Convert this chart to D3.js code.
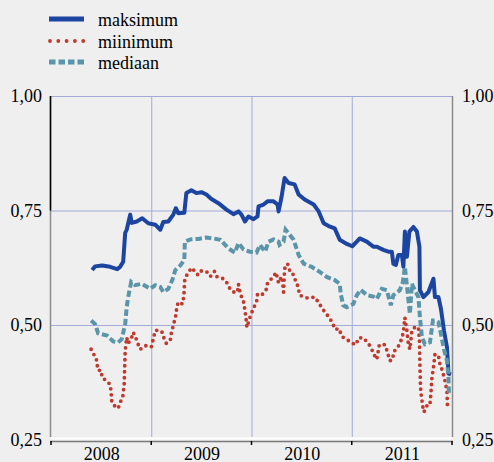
<!DOCTYPE html>
<html><head><meta charset="utf-8">
<script src="https://cdn.jsdelivr.net/npm/d3@7"></script>
<style>
html,body{margin:0;padding:0;background:#efefef;}
svg{display:block;}
text{font-family:"Liberation Serif","Times New Roman",serif;fill:#000;}
</style></head>
<body>
<svg id="chart" width="494" height="462"></svg>
<script>
// ---- data (time in decimal years) ----
const seriesNames = ["maksimum", "miinimum", "mediaan"];
const yTicks = [0.25, 0.50, 0.75, 1.00];
const yearLabels = ["2008", "2009", "2010", "2011"];

const maxTime = [2008.41,2008.44,2008.51,2008.59,2008.66,2008.69,2008.72,2008.74,2008.755,2008.79,2008.805,2008.855,2008.91,2008.97,2009.04,2009.09,2009.12,2009.17,2009.22,2009.245,2009.27,2009.33,2009.35,2009.40,2009.45,2009.50,2009.55,2009.60,2009.67,2009.75,2009.82,2009.87,2009.90,2009.935,2009.97,2010.02,2010.06,2010.07,2010.12,2010.16,2010.22,2010.26,2010.27,2010.30,2010.33,2010.37,2010.43,2010.47,2010.53,2010.62,2010.67,2010.72,2010.77,2010.83,2010.88,2010.95,2011.005,2011.05,2011.08,2011.15,2011.215,2011.25,2011.315,2011.365,2011.40,2011.415,2011.44,2011.465,2011.50,2011.515,2011.53,2011.55,2011.575,2011.615,2011.65,2011.675,2011.68,2011.715,2011.765,2011.815,2011.83,2011.865,2011.89,2011.92,2011.95,2011.965,2011.99];
const maxValue = [0.620,0.628,0.630,0.627,0.622,0.627,0.638,0.701,0.708,0.741,0.723,0.726,0.733,0.722,0.719,0.708,0.725,0.726,0.741,0.755,0.744,0.745,0.788,0.794,0.788,0.790,0.785,0.775,0.766,0.752,0.742,0.748,0.741,0.726,0.737,0.731,0.737,0.759,0.763,0.770,0.770,0.763,0.748,0.780,0.821,0.810,0.807,0.785,0.774,0.763,0.748,0.722,0.716,0.711,0.686,0.677,0.672,0.682,0.689,0.682,0.671,0.671,0.664,0.660,0.660,0.634,0.631,0.653,0.653,0.627,0.704,0.649,0.704,0.714,0.704,0.671,0.576,0.561,0.572,0.601,0.561,0.561,0.535,0.488,0.451,0.394,0.392];

const minTime = [2008.40,2008.42,2008.45,2008.46,2008.47,2008.50,2008.51,2008.55,2008.59,2008.60,2008.605,2008.62,2008.67,2008.69,2008.715,2008.73,2008.735,2008.74,2008.755,2008.77,2008.805,2008.82,2008.845,2008.865,2008.89,2008.94,2009.00,2009.02,2009.04,2009.08,2009.11,2009.13,2009.15,2009.19,2009.20,2009.22,2009.245,2009.255,2009.27,2009.31,2009.325,2009.33,2009.335,2009.36,2009.39,2009.41,2009.44,2009.47,2009.50,2009.55,2009.59,2009.63,2009.65,2009.72,2009.75,2009.78,2009.82,2009.86,2009.87,2009.88,2009.90,2009.925,2009.935,2009.945,2009.95,2009.955,2009.99,2010.025,2010.05,2010.06,2010.10,2010.145,2010.16,2010.19,2010.22,2010.245,2010.26,2010.27,2010.30,2010.315,2010.32,2010.33,2010.36,2010.38,2010.41,2010.42,2010.45,2010.47,2010.48,2010.53,2010.56,2010.63,2010.67,2010.70,2010.74,2010.77,2010.81,2010.83,2010.88,2010.89,2010.915,2010.96,2011.01,2011.04,2011.07,2011.115,2011.165,2011.20,2011.215,2011.25,2011.275,2011.33,2011.35,2011.38,2011.41,2011.415,2011.45,2011.48,2011.51,2011.52,2011.53,2011.55,2011.565,2011.58,2011.60,2011.63,2011.665,2011.675,2011.68,2011.685,2011.69,2011.71,2011.72,2011.755,2011.78,2011.79,2011.80,2011.815,2011.83,2011.865,2011.88,2011.905,2011.93,2011.95,2011.955];
const minValue = [0.447,0.438,0.429,0.414,0.401,0.401,0.385,0.379,0.370,0.354,0.335,0.326,0.318,0.331,0.342,0.370,0.407,0.444,0.473,0.460,0.473,0.484,0.473,0.460,0.447,0.455,0.452,0.469,0.488,0.489,0.484,0.469,0.460,0.467,0.482,0.499,0.521,0.539,0.550,0.546,0.562,0.583,0.601,0.611,0.621,0.625,0.614,0.609,0.618,0.617,0.606,0.617,0.606,0.601,0.594,0.581,0.572,0.572,0.589,0.577,0.562,0.548,0.530,0.517,0.501,0.495,0.521,0.539,0.550,0.567,0.565,0.576,0.592,0.599,0.606,0.615,0.601,0.592,0.606,0.583,0.572,0.623,0.634,0.620,0.616,0.604,0.594,0.577,0.565,0.561,0.559,0.561,0.549,0.538,0.526,0.518,0.504,0.491,0.491,0.480,0.473,0.467,0.460,0.457,0.472,0.472,0.460,0.447,0.438,0.425,0.457,0.457,0.445,0.422,0.425,0.440,0.450,0.458,0.480,0.495,0.516,0.488,0.458,0.447,0.488,0.495,0.495,0.466,0.414,0.370,0.352,0.320,0.310,0.326,0.326,0.352,0.385,0.407,0.436,0.433,0.414,0.400,0.378,0.356,0.320];

const medTime = [2008.40,2008.44,2008.47,2008.56,2008.62,2008.67,2008.705,2008.74,2008.755,2008.77,2008.80,2008.84,2008.905,2008.99,2009.04,2009.09,2009.12,2009.17,2009.21,2009.24,2009.29,2009.33,2009.335,2009.39,2009.47,2009.55,2009.62,2009.69,2009.77,2009.835,2009.87,2009.92,2009.985,2010.05,2010.085,2010.135,2010.17,2010.22,2010.27,2010.28,2010.32,2010.34,2010.37,2010.42,2010.47,2010.52,2010.60,2010.68,2010.75,2010.83,2010.88,2010.89,2010.915,2010.95,2011.015,2011.05,2011.09,2011.15,2011.215,2011.25,2011.30,2011.35,2011.39,2011.415,2011.48,2011.51,2011.53,2011.555,2011.58,2011.60,2011.63,2011.665,2011.68,2011.70,2011.73,2011.78,2011.81,2011.83,2011.865,2011.89,2011.92,2011.95,2011.965,2011.97];
const medValue = [0.510,0.502,0.482,0.477,0.464,0.462,0.469,0.502,0.539,0.561,0.594,0.587,0.590,0.579,0.587,0.583,0.572,0.579,0.598,0.620,0.630,0.642,0.682,0.687,0.688,0.691,0.689,0.686,0.667,0.658,0.679,0.665,0.660,0.658,0.675,0.660,0.682,0.687,0.682,0.675,0.682,0.708,0.700,0.686,0.653,0.634,0.627,0.616,0.605,0.598,0.590,0.568,0.543,0.539,0.546,0.565,0.577,0.565,0.562,0.557,0.579,0.576,0.543,0.565,0.576,0.594,0.627,0.576,0.524,0.590,0.576,0.561,0.517,0.473,0.458,0.462,0.510,0.510,0.506,0.480,0.447,0.422,0.385,0.348];

// ---- layout ----
const svg = d3.select("#chart");
const plotL = 51, plotR = 452, plotT = 96, plotB = 437;
const x = d3.scaleLinear().domain([2008, 2012]).range([plotL, plotR]);
const y = d3.scaleLinear().domain([0.25, 1.00]).range([439.5, 96]);
const fmt = v => d3.format(".2f")(v).replace(".", ",");

const colors = {max: "#1b45a0", min: "#bf392c", med: "#5b95a9"};
const grid = "#a3aad8";

// gridlines
svg.append("g").selectAll("line").data(yTicks.filter(v => v > 0.25)).join("line")
  .attr("x1", plotL).attr("x2", plotR)
  .attr("y1", d => y(d) + 0.5).attr("y2", d => y(d) + 0.5)
  .attr("stroke", grid).attr("stroke-width", 1);
svg.append("g").selectAll("line").data([2009, 2010, 2011]).join("line")
  .attr("x1", d => x(d) + 0.5).attr("x2", d => x(d) + 0.5)
  .attr("y1", plotT).attr("y2", plotB)
  .attr("stroke", grid).attr("stroke-width", 1);

// frame
svg.append("line").attr("x1", plotL - 0.5).attr("x2", plotL - 0.5).attr("y1", plotT).attr("y2", plotB)
  .attr("stroke", "#8a8a8a").attr("stroke-width", 1.5);
svg.append("line").attr("x1", plotL - 0.5).attr("x2", plotL - 0.5).attr("y1", plotT).attr("y2", y(0.75))
  .attr("stroke", "#000").attr("stroke-width", 1.5);
svg.append("line").attr("x1", plotR + 0.5).attr("x2", plotR + 0.5).attr("y1", plotT).attr("y2", plotB)
  .attr("stroke", "#8a8a8a").attr("stroke-width", 1.5);
svg.append("line").attr("x1", plotL).attr("x2", plotR).attr("y1", 438.5).attr("y2", 438.5)
  .attr("stroke", "#ffffff").attr("stroke-width", 2);
svg.append("line").attr("x1", plotL - 1).attr("x2", plotR + 1).attr("y1", 441.5).attr("y2", 441.5)
  .attr("stroke", "#7a7a7a").attr("stroke-width", 1.5);
svg.append("g").selectAll("line").data([2008, 2009, 2010, 2011, 2012]).join("line")
  .attr("x1", d => x(d)).attr("x2", d => x(d)).attr("y1", 441).attr("y2", 445)
  .attr("stroke", "#000").attr("stroke-width", 1.5);

// axes (labels)
const axL = d3.axisLeft(y).tickValues(yTicks).tickFormat(fmt).tickSize(0).tickPadding(9);
const gL = svg.append("g").attr("transform", `translate(${plotL},0)`).call(axL);
const axR = d3.axisRight(y).tickValues(yTicks).tickFormat(fmt).tickSize(0).tickPadding(10);
const gR = svg.append("g").attr("transform", `translate(${plotR},0)`).call(axR);
const xLab = d3.axisBottom(x).tickValues(yearLabels.map(s => +s + 0.5))
  .tickFormat(d => yearLabels[Math.floor(d) - 2008]).tickSize(0).tickPadding(0);
const gB = svg.append("g").attr("transform", `translate(0,447)`).call(xLab);
[gL, gR, gB].forEach(g => {
  g.select(".domain").remove();
  g.selectAll("text").attr("font-family", "Liberation Serif, serif").attr("font-size", 18).attr("fill", "#000");
});

// series
const line = d3.line().x(d => x(d[0])).y(d => y(d[1])).curve(d3.curveLinear);
const zip = (t, v) => t.map((ti, i) => [ti, v[i]]);

svg.append("path").datum(zip(maxTime, maxValue)).attr("d", line)
  .attr("fill", "none").attr("stroke", colors.max).attr("stroke-width", 4).attr("stroke-linejoin", "round");
svg.append("path").datum(zip(minTime, minValue)).attr("d", line)
  .attr("fill", "none").attr("stroke", colors.min).attr("stroke-width", 3.8)
  .attr("stroke-linecap", "round").attr("stroke-dasharray", "0 6");
svg.append("path").datum(zip(medTime, medValue)).attr("d", line)
  .attr("fill", "none").attr("stroke", colors.med).attr("stroke-width", 4)
  .attr("stroke-dasharray", "6.5 3");

// legend
const legend = svg.append("g");
const legY = [19, 41, 62];
const styles = [
  {c: colors.max, w: 5, dash: null, cap: "butt"},
  {c: colors.min, w: 3.8, dash: "0 8.3", cap: "round"},
  {c: colors.med, w: 5, dash: "6.5 3", cap: "butt"}
];
seriesNames.forEach((name, i) => {
  const s = styles[i];
  legend.append("line").attr("x1", s.cap === "round" ? 50 : 49).attr("x2", 84)
    .attr("y1", legY[i]).attr("y2", legY[i])
    .attr("stroke", s.c).attr("stroke-width", s.w).attr("stroke-linecap", s.cap)
    .attr("stroke-dasharray", s.dash);
  legend.append("text").attr("x", 98).attr("y", legY[i] + 6.5)
    .attr("font-size", 18).text(name);
});
</script>
</body></html>
